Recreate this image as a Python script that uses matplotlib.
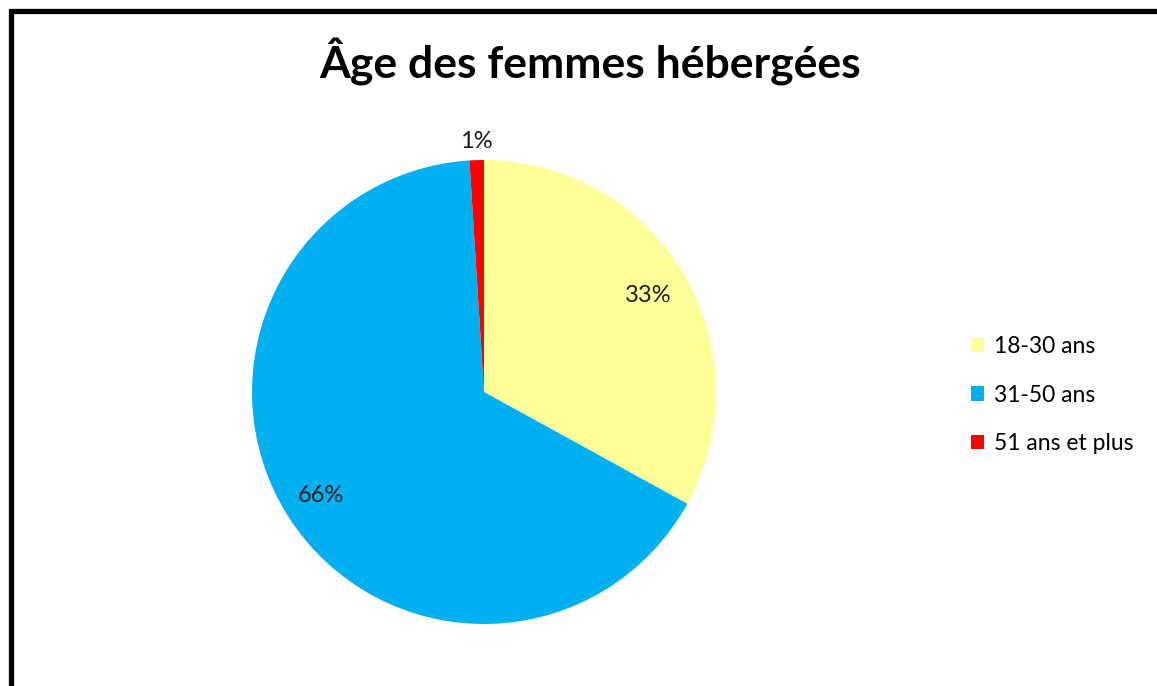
import matplotlib
matplotlib.use('Agg')
import matplotlib.pyplot as plt
from matplotlib.patches import Rectangle, Patch
import numpy as np

plt.rcParams['font.family'] = ['Lato', 'DejaVu Sans']

# data
categories = ['18-30 ans', '31-50 ans', '51 ans et plus']
values = [33, 66, 1]
colors = ['#FFFF99', '#00B0F0', '#FF0000']
title = 'Âge des femmes hébergées'

W, H = 1157, 686
fig = plt.figure(figsize=(W / 100, H / 100), dpi=100)

# pie centre (484, 392) px, radius 232 px
cx, cy, r = 484, 392, 232
ax = fig.add_axes([(cx - r) / W, (H - cy - r) / H, 2 * r / W, 2 * r / H])
wedges, _ = ax.pie(values, colors=colors, startangle=90, counterclock=False,
                   radius=1.0, wedgeprops={'linewidth': 0})
ax.set_xlim(-1, 1)
ax.set_ylim(-1, 1)
ax.axis('off')

# percentage labels
dists = [0.82, 0.83, 1.08]
for w, v, d in zip(wedges, values, dists):
    ang = np.deg2rad((w.theta1 + w.theta2) / 2)
    ax.text(d * np.cos(ang), d * np.sin(ang), f'{v}%', ha='center', va='center',
            fontsize=17, color='#1a1a1a', clip_on=False)

fig.text(590 / W, 1 - 62 / H, title, ha='center', va='center',
         fontsize=32, fontweight='bold', color='black')

handles = [Patch(facecolor=c, edgecolor='none') for c in colors]
fig.legend(handles, categories, loc='center left',
           bbox_to_anchor=(950 / W, 1 - 395 / H), frameon=False,
           fontsize=16.5, handlelength=0.6, handleheight=0.6,
           handletextpad=0.4, labelspacing=1.2)

# outer chart border (cut off on right and bottom)
fig.patches.append(Rectangle((10.5 / W, -0.5), 2.0, (H - 10.5) / H + 0.5,
                             transform=fig.transFigure, fill=False,
                             edgecolor='black', linewidth=3.8))

fig.savefig('out.png', dpi=100)
